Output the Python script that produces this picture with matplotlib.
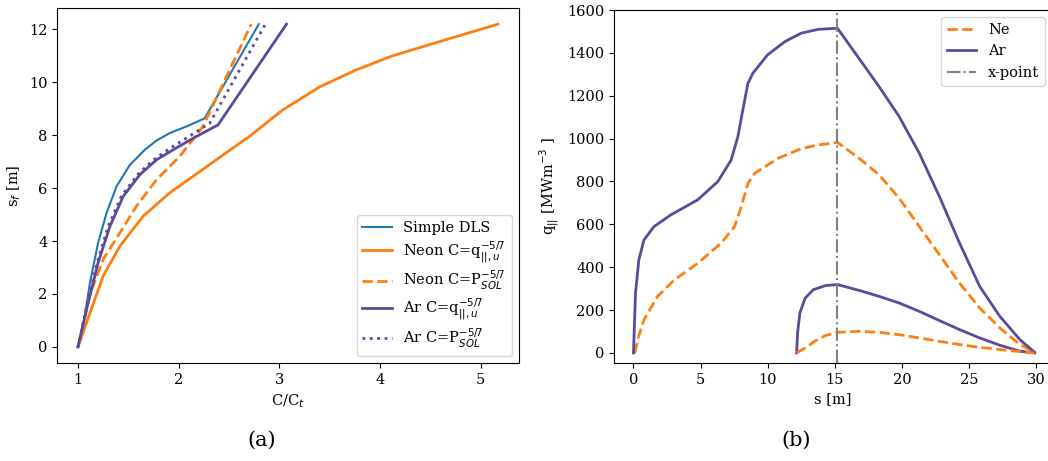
import matplotlib
matplotlib.use("Agg")
import matplotlib.pyplot as plt

plt.rcParams['font.family'] = 'DejaVu Serif'
plt.rcParams['font.size'] = 10.5
plt.rcParams['mathtext.fontset'] = 'dejavusans'

BLUE = '#1f77b4'
ORANGE = '#ff7f0e'
PURPLE = '#5b4a9b'

# (a) front position s_f vs C/C_t
dls_c = [1.0, 1.06, 1.119, 1.20, 1.284, 1.383, 1.515, 1.663, 1.78, 1.91, 2.10, 2.257, 2.795]
dls_s = [0.0, 0.99, 2.43, 3.94, 5.07, 6.07, 6.88, 7.45, 7.80, 8.08, 8.37, 8.64, 12.2]

ne_q_c = [1.0, 1.086, 1.25, 1.416, 1.647, 1.91, 2.21, 2.49, 2.70, 3.03, 3.40, 3.75, 4.12, 4.73, 5.17]
ne_q_s = [0.0, 0.93, 2.68, 3.81, 4.94, 5.82, 6.63, 7.39, 7.95, 8.95, 9.83, 10.45, 11.0, 11.7, 12.2]

ne_p_c = [1.0, 1.12, 1.25, 1.416, 1.58, 1.78, 2.01, 2.24, 2.72]
ne_p_s = [0.0, 2.0, 3.31, 4.31, 5.32, 6.32, 7.20, 8.33, 12.2]

ar_q_c = [1.0, 1.086, 1.20, 1.317, 1.449, 1.614, 1.779, 1.944, 2.15, 2.39, 3.07]
ar_q_s = [0.0, 1.43, 3.19, 4.56, 5.69, 6.51, 7.07, 7.45, 7.90, 8.39, 12.2]

ar_p_c = [1.0, 1.08, 1.19, 1.30, 1.43, 1.59, 1.75, 1.91, 2.10, 2.307, 2.86]
ar_p_s = [0.0, 1.43, 3.19, 4.56, 5.69, 6.51, 7.07, 7.50, 7.95, 8.45, 12.2]

# (b) q_parallel profiles along s
ar_hi_s = [0.0, 0.08, 0.15, 0.4, 0.78, 1.52, 2.78, 4.78, 6.28, 7.28, 7.78, 8.15, 8.53, 8.9,
           10.0, 11.3, 12.5, 13.8, 15.2, 16.8, 18.3, 19.8, 21.3, 22.8, 24.3, 25.8, 27.3, 28.8, 29.9]
ar_hi_q = [0, 150, 278, 434, 527, 589, 644, 714, 799, 900, 1009, 1133, 1258, 1305,
           1391, 1453, 1492, 1510, 1515, 1375, 1243, 1103, 932, 730, 513, 311, 171, 62, 3]

ne_hi_s = [0.1, 0.35, 0.78, 1.78, 3.03, 4.78, 6.53, 7.53, 8.03, 8.53, 9.03, 10.78, 12.5,
           13.8, 15.2, 16.8, 18.3, 19.8, 21.3, 22.8, 24.3, 25.8, 27.3, 28.8, 29.9]
ne_hi_q = [0, 70, 154, 263, 340, 418, 512, 589, 682, 791, 838, 908, 953,
           971, 982, 909, 831, 722, 590, 458, 326, 210, 117, 39, 3]

ar_lo_s = [12.16, 12.23, 12.4, 12.8, 13.4, 14.3, 15.2, 16.8, 18.3, 19.8, 21.3, 22.8, 24.3, 25.8, 27.3, 28.8, 29.9]
ar_lo_q = [0, 93, 186, 256, 295, 314, 319, 292, 264, 233, 194, 151, 109, 70, 36, 8, 0]

ne_lo_s = [12.16, 12.8, 13.5, 14.3, 15.2, 16.8, 18.3, 19.8, 21.3, 22.8, 24.3, 25.8, 27.3, 28.8, 29.9]
ne_lo_q = [0, 23, 54, 81, 96, 101, 96, 85, 70, 54, 39, 26, 16, 6, 0]

x_point = 15.2

fig = plt.figure(figsize=(10.48, 4.61), dpi=100)
ax1 = fig.add_axes([0.0544, 0.2126, 0.4408, 0.7700])
ax2 = fig.add_axes([0.5859, 0.2126, 0.4180, 0.7657])

ax1.plot(dls_c, dls_s, color=BLUE, lw=1.5, label='Simple DLS')
ax1.plot(ne_q_c, ne_q_s, color=ORANGE, lw=2, label=r'Neon C=q$_{||,u}^{-5/7}$')
ax1.plot(ne_p_c, ne_p_s, color=ORANGE, lw=2, ls='--', label=r'Neon C=P$_{SOL}^{-5/7}$')
ax1.plot(ar_q_c, ar_q_s, color=PURPLE, lw=2, label=r'Ar C=q$_{||,u}^{-5/7}$')
ax1.plot(ar_p_c, ar_p_s, color=PURPLE, lw=2, ls=':', label=r'Ar C=P$_{SOL}^{-5/7}$')
ax1.set_xlabel('C/C$_t$')
ax1.set_ylabel('s$_f$ [m]')
ax1.set_xticks([1, 2, 3, 4, 5])
ax1.set_yticks([0, 2, 4, 6, 8, 10, 12])
ax1.legend(loc='lower right', labelspacing=0.3)

ax2.plot(ne_hi_s, ne_hi_q, color=ORANGE, lw=2, ls='--', label='Ne')
ax2.plot(ar_hi_s, ar_hi_q, color=PURPLE, lw=2, label='Ar')
ax2.plot(ar_lo_s, ar_lo_q, color=PURPLE, lw=2)
ax2.plot(ne_lo_s, ne_lo_q, color=ORANGE, lw=2, ls='--')
ax2.axvline(x_point, color='grey', lw=1.5, ls='-.', label='x-point')
ax2.set_xlim(-1.45, 31.2)
ax2.set_ylim(-47, 1600)
ax2.set_xlabel('s [m]')
ax2.set_ylabel(r'q$_{||}$ [MWm$^{-3}$ ]')
ax2.legend(loc='upper right')

fig.text(0.25, 0.045, '(a)', ha='center', va='center', fontsize=15)
fig.text(0.76, 0.045, '(b)', ha='center', va='center', fontsize=15)

fig.savefig('out.png', dpi=100)
